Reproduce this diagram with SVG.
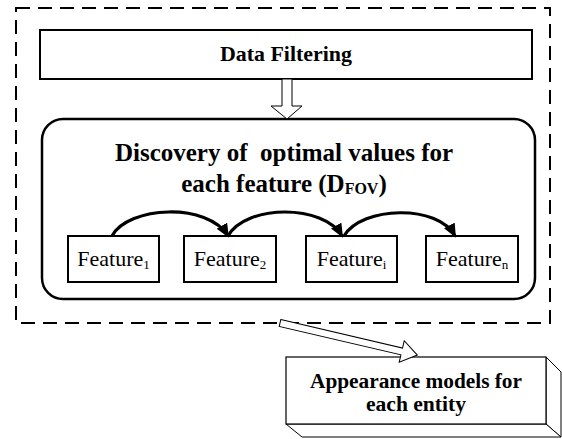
<svg xmlns="http://www.w3.org/2000/svg" width="562" height="439" viewBox="0 0 562 439">
<style>
.bold{font-family:"Liberation Serif","Times New Roman",serif;font-weight:bold;fill:#000}
.reg{font-family:"Liberation Serif","Times New Roman",serif;fill:#000}
.box{fill:#fff;stroke:#000;stroke-width:2}
.hollow{fill:#fff;stroke:#000;stroke-width:1}
.arc{fill:none;stroke:#000;stroke-width:3.2}
</style>
<defs>
<marker id="ah" viewBox="0 0 14 12" refX="12" refY="6" markerWidth="14" markerHeight="12" markerUnits="userSpaceOnUse" orient="auto">
<path d="M0,0 L14,6 L0,12 Z" fill="#000"/>
</marker>
</defs>
<rect width="562" height="439" fill="#fff"/>

<g id="outer">
<rect x="16" y="8" width="534" height="315" fill="none" stroke="#000" stroke-width="2" stroke-dasharray="14,8"/>
</g>

<g id="data-filtering">
<rect class="box" x="40" y="30" width="492" height="49"/>
<text class="bold" x="286" y="61" font-size="21" text-anchor="middle" textLength="132" lengthAdjust="spacingAndGlyphs">Data Filtering</text>
</g>

<g id="discovery">
<rect x="42" y="119" width="493" height="180" rx="21" ry="21" fill="#fff" stroke="#000" stroke-width="2.5"/>
<text class="bold" x="284" y="161" font-size="25" text-anchor="middle" xml:space="preserve">Discovery of  optimal values for</text>
<text class="bold" x="284" y="192" font-size="25" text-anchor="middle">each feature (D<tspan font-size="16" dy="2">FOV</tspan><tspan dy="-2">)</tspan></text>
</g>

<g id="feature1">
<rect class="box" x="68" y="236" width="91" height="46"/>
<text class="reg" x="113.5" y="266" font-size="22" text-anchor="middle">Feature<tspan font-size="13" dy="3">1</tspan></text>
</g>
<g id="feature2">
<rect class="box" x="184" y="236" width="92" height="46"/>
<text class="reg" x="230" y="266" font-size="22" text-anchor="middle">Feature<tspan font-size="13" dy="3">2</tspan></text>
</g>
<g id="featurei">
<rect class="box" x="306" y="236" width="91" height="46"/>
<text class="reg" x="351.5" y="266" font-size="22" text-anchor="middle">Feature<tspan font-size="13" dy="3">i</tspan></text>
</g>
<g id="featuren">
<rect class="box" x="426" y="236" width="92" height="46"/>
<text class="reg" x="472" y="266" font-size="22" text-anchor="middle">Feature<tspan font-size="13" dy="3">n</tspan></text>
</g>

<g id="appearance">
<polygon points="546,357 561,372 561,437 546,424" fill="#fff" stroke="#000" stroke-width="1"/>
<polygon points="286,424 546,424 561,437 302,437" fill="#fff" stroke="#000" stroke-width="1"/>
<rect x="286" y="357" width="260" height="67" fill="#fff" stroke="#000" stroke-width="1.2"/>
<text class="bold" x="416" y="388" font-size="20" text-anchor="middle" textLength="212" lengthAdjust="spacingAndGlyphs">Appearance models for</text>
<text class="bold" x="416" y="411" font-size="20" text-anchor="middle" textLength="100" lengthAdjust="spacingAndGlyphs">each entity</text>
</g>

<g id="connectors">
<polygon class="hollow" points="282,79 292,79 292,106 302,106 287,119 271,106 282,106"/>
<path class="arc" d="M112,236 C128,206 208,202 228,236" marker-end="url(#ah)"/>
<path class="arc" d="M228,236 C246,204 324,204 342,236" marker-end="url(#ah)"/>
<path class="arc" d="M344,236 C362,206 438,204 455,236" marker-end="url(#ah)"/>
<polygon class="hollow" transform="translate(280,323) rotate(13.15)" points="0,-3.5 125,-3.5 125,-11 141,0 125,11 125,3.5 0,3.5"/>
</g>
</svg>
